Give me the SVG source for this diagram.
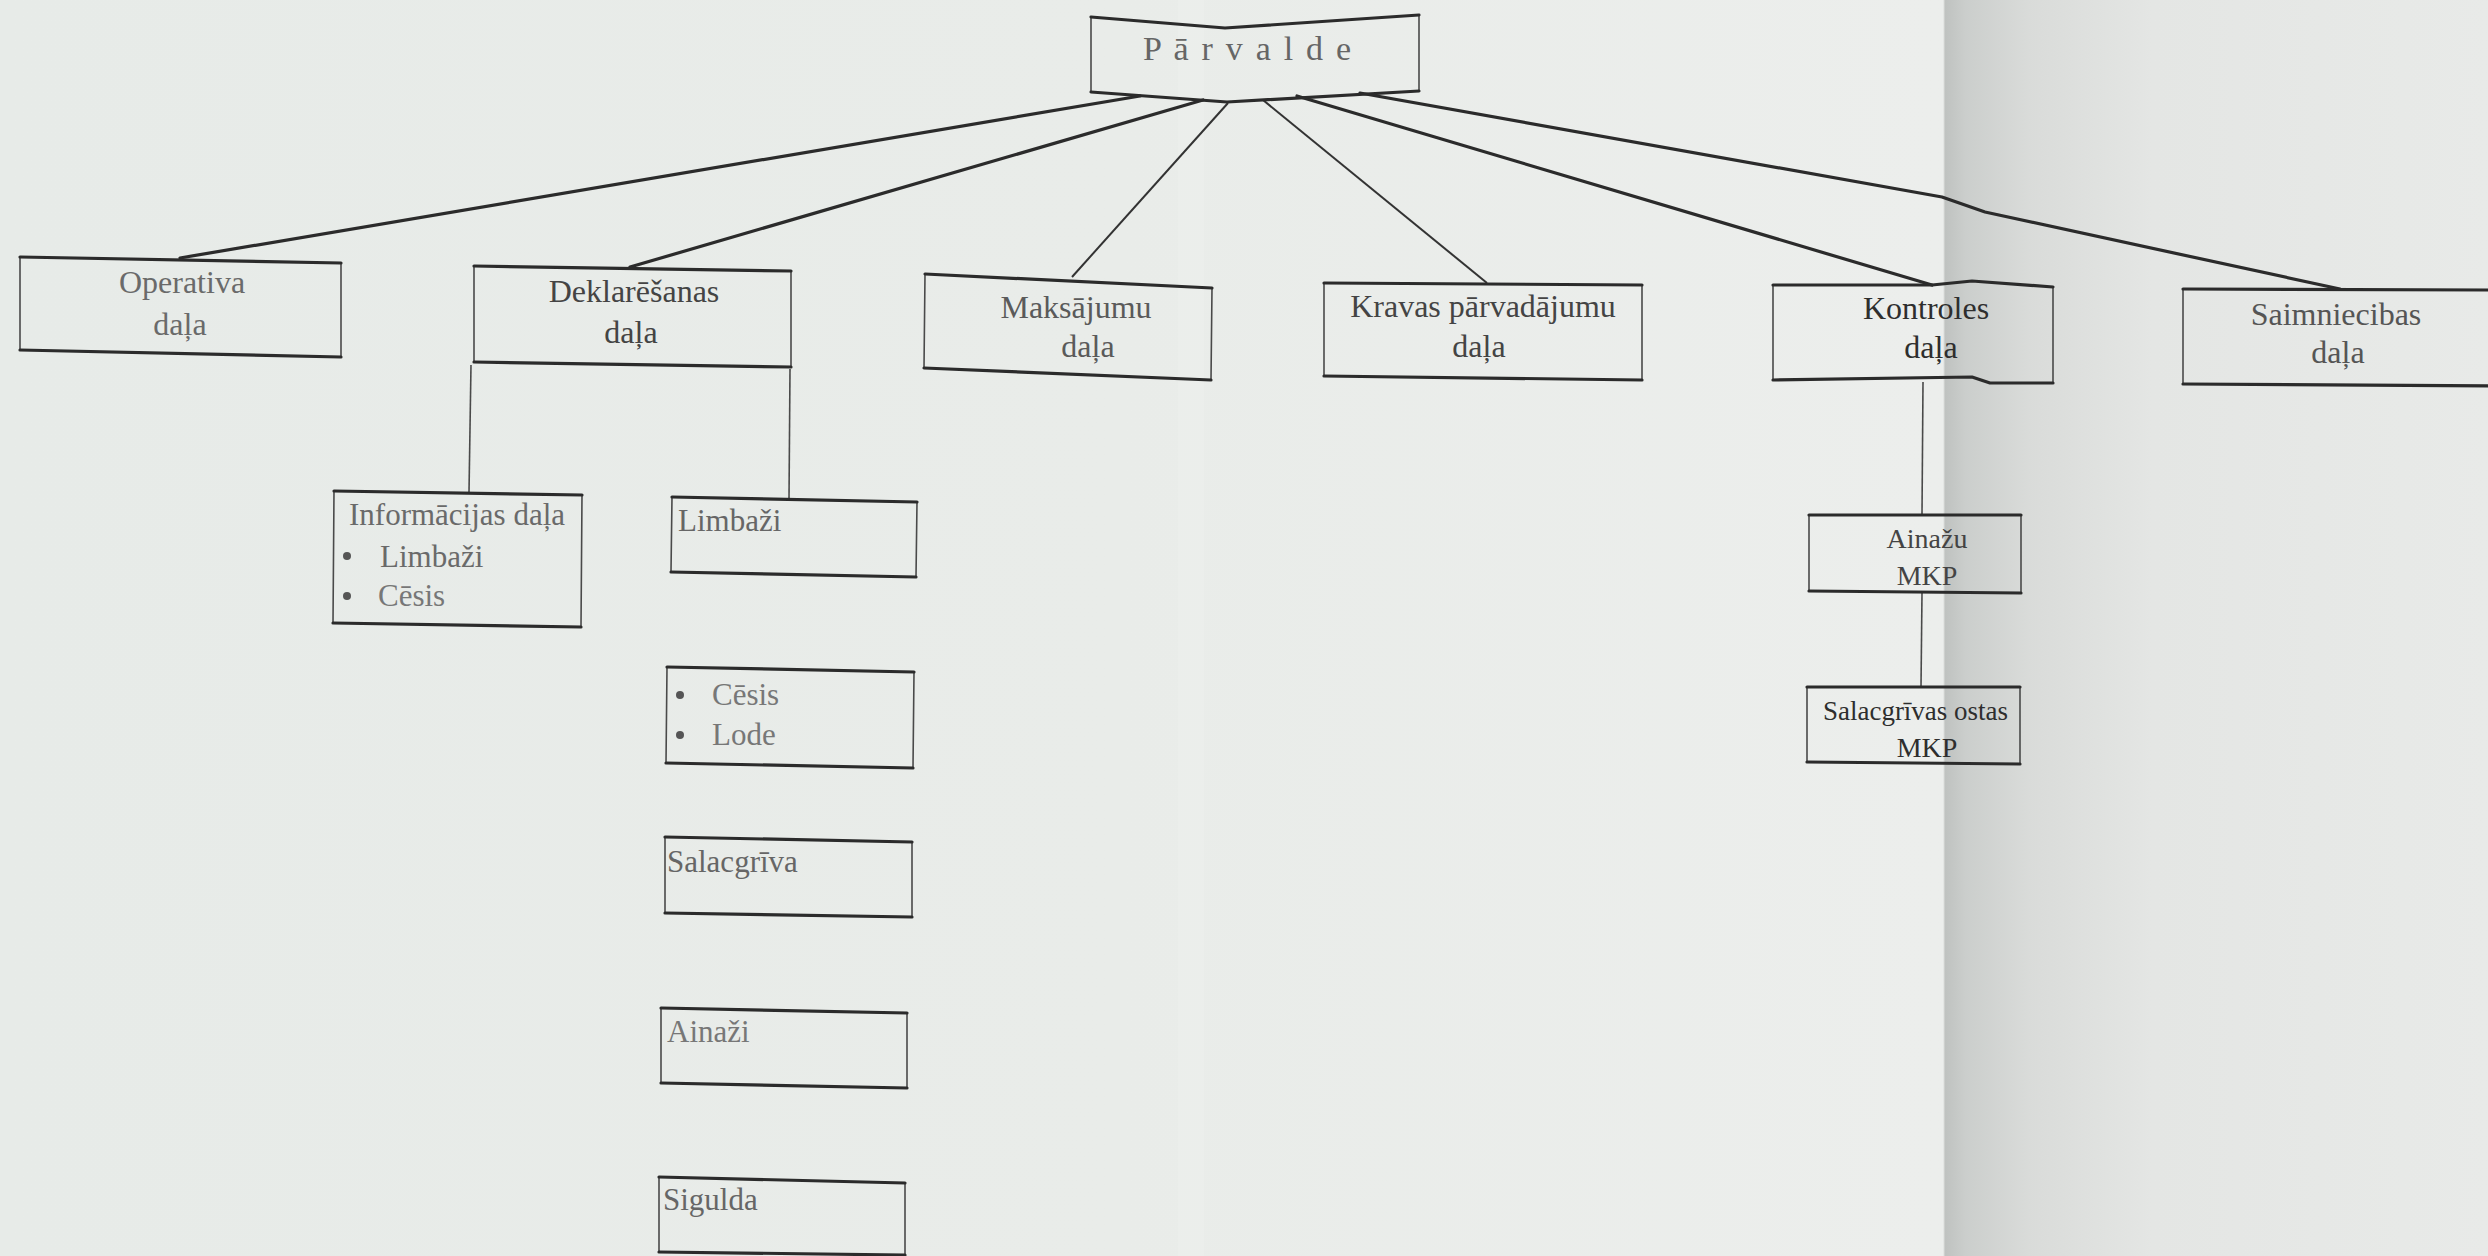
<svg xmlns="http://www.w3.org/2000/svg" width="2488" height="1256" viewBox="0 0 2488 1256">
<defs>
<linearGradient id="bg" x1="0" y1="0" x2="2488" y2="0" gradientUnits="userSpaceOnUse">
<stop offset="0" stop-color="#e7ebe8"/>
<stop offset="0.45" stop-color="#e9ece9"/>
<stop offset="0.7810" stop-color="#eceeec"/>
<stop offset="0.7818" stop-color="#bfc2c0"/>
<stop offset="0.79" stop-color="#cbcecc"/>
<stop offset="0.815" stop-color="#d9dbd9"/>
<stop offset="0.865" stop-color="#e4e6e4"/>
<stop offset="1" stop-color="#e8eae8"/>
</linearGradient>
<style>
.edge{fill:none;stroke:#2b2b2b;stroke-width:3.2;stroke-linecap:round;stroke-linejoin:round}
.side{fill:none;stroke:#4a4a4a;stroke-width:1.6}
.thick{fill:none;stroke:#2b2b2b;stroke-width:3.2;stroke-linecap:round;stroke-linejoin:round}
.thin{fill:none;stroke:#333;stroke-width:2}
.vline{fill:none;stroke:#4a4a4a;stroke-width:1.6}
text{font-family:"Liberation Serif","Times New Roman",serif;font-size:32px;fill:#4a4a4a}
.c{text-anchor:middle}
.sub{font-size:31px;fill:#666}
.mkp{font-size:28px;fill:#444}
.dot{fill:#555}
</style>
</defs>
<rect x="0" y="0" width="2488" height="1256" fill="url(#bg)"/>
<rect x="1178" y="0" width="26" height="1256" fill="#f1f3f1" opacity="0.3"/>

<g id="connectors">
<path class="thick" d="M1140,96 L180,258"/>
<path class="thick" d="M1203,100 L630,267"/>
<path class="thin" d="M1228,103 L1072,277"/>
<path class="thin" d="M1263,100 L1487,283"/>
<path class="thick" d="M1297,96 L1932,285"/>
<path class="thick" d="M1360,93 L1942,197 L1985,212 L2340,289"/>
<path class="vline" d="M471,365 L469,492"/>
<path class="vline" d="M790,369 L789,499"/>
<path class="vline" d="M1923,382 L1922,515"/>
<path class="vline" d="M1922,593 L1921,687"/>
</g>

<g id="parvalde">
<path class="side" d="M1091,17 L1091,92 M1419,15 L1419,91"/>
<path class="edge" d="M1091,17 L1225,28 L1419,15 M1091,92 L1227,102 L1419,91"/>
<text x="1143" y="60" style="font-size:34px;letter-spacing:2.2px;fill:#666">P ā r v a l d e</text>
</g>

<g id="operativa">
<path class="side" d="M20,257 L20,350 M341,263 L341,357"/>
<path class="edge" d="M20,257 L341,263 M20,350 L341,357"/>
<text class="c" x="182" y="293" style="fill:#6a6a6a">Operativa</text>
<text class="c" x="180" y="335" style="fill:#6a6a6a">daļa</text>
</g>

<g id="deklaresanas">
<path class="side" d="M474,266 L474,362 M791,271 L791,367"/>
<path class="edge" d="M474,266 L791,271 M474,362 L791,367"/>
<text class="c" x="634" y="302" style="fill:#444">Deklarēšanas</text>
<text class="c" x="631" y="343" style="fill:#444">daļa</text>
</g>

<g id="maksajumu">
<path class="side" d="M925,274 L924,368 M1212,288 L1211,380"/>
<path class="edge" d="M925,274 L1212,288 M924,368 L1211,380"/>
<text class="c" x="1076" y="318" style="fill:#5a5a5a">Maksājumu</text>
<text class="c" x="1088" y="357" style="fill:#5a5a5a">daļa</text>
</g>

<g id="kravas">
<path class="side" d="M1324,283 L1324,376 M1642,285 L1642,380"/>
<path class="edge" d="M1324,283 L1642,285 M1324,376 L1642,380"/>
<text class="c" x="1483" y="317" style="fill:#444">Kravas pārvadājumu</text>
<text class="c" x="1479" y="357" style="fill:#444">daļa</text>
</g>

<g id="kontroles">
<path class="side" d="M1773,285 L1773,380 M2053,287 L2053,383"/>
<path class="edge" d="M1773,285 L1932,285 L1972,281 L2053,287 M1773,380 L1972,377 L1990,383 L2053,383"/>
<text class="c" x="1926" y="319" style="fill:#2e2e2e">Kontroles</text>
<text class="c" x="1931" y="358" style="fill:#2e2e2e">daļa</text>
</g>

<g id="saimniecibas">
<path class="side" d="M2183,289 L2183,384"/>
<path class="edge" d="M2183,289 L2492,290 M2183,384 L2492,386"/>
<text class="c" x="2336" y="325" style="fill:#555">Saimniecibas</text>
<text class="c" x="2338" y="363" style="fill:#555">daļa</text>
</g>

<g id="informacijas">
<path class="side" d="M334,491 L333,623 M582,495 L581,627"/>
<path class="edge" d="M334,491 L582,495 M333,623 L581,627"/>
<text class="sub" x="349" y="525" style="fill:#6a6a6a">Informācijas daļa</text>
<circle class="dot" cx="347" cy="556" r="4"/>
<text class="sub" x="380" y="567" style="fill:#6a6a6a">Limbaži</text>
<circle class="dot" cx="347" cy="596" r="4"/>
<text class="sub" x="378" y="606" style="fill:#777">Cēsis</text>
</g>

<g id="limbazi">
<path class="side" d="M672,497 L671,572 M917,502 L916,577"/>
<path class="edge" d="M672,497 L917,502 M671,572 L916,577"/>
<text class="sub" x="678" y="531">Limbaži</text>
</g>

<g id="cesis-lode">
<path class="side" d="M667,667 L666,763 M914,672 L913,768"/>
<path class="edge" d="M667,667 L914,672 M666,763 L913,768"/>
<circle class="dot" cx="680" cy="695" r="4"/>
<text class="sub" x="712" y="705" style="fill:#777">Cēsis</text>
<circle class="dot" cx="680" cy="735" r="4"/>
<text class="sub" x="712" y="745" style="fill:#777">Lode</text>
</g>

<g id="salacgriva">
<path class="side" d="M665,837 L665,913 M912,842 L912,917"/>
<path class="edge" d="M665,837 L912,842 M665,913 L912,917"/>
<text class="sub" x="667" y="872">Salacgrīva</text>
</g>

<g id="ainazi">
<path class="side" d="M661,1008 L661,1083 M907,1013 L907,1088"/>
<path class="edge" d="M661,1008 L907,1013 M661,1083 L907,1088"/>
<text class="sub" x="667" y="1042" style="fill:#777">Ainaži</text>
</g>

<g id="sigulda">
<path class="side" d="M659,1177 L659,1252 M905,1183 L905,1256"/>
<path class="edge" d="M659,1177 L905,1183 M659,1252 L905,1255"/>
<text class="sub" x="663" y="1210">Sigulda</text>
</g>

<g id="ainazu-mkp">
<path class="side" d="M1809,515 L1809,591 M2021,515 L2021,593"/>
<path class="edge" d="M1809,515 L2021,515 M1809,591 L2021,593"/>
<text class="mkp c" x="1927" y="548">Ainažu</text>
<text class="mkp c" x="1927" y="585">MKP</text>
</g>

<g id="salacgrivas-mkp">
<path class="side" d="M1807,687 L1807,762 M2020,687 L2020,764"/>
<path class="edge" d="M1807,687 L2020,687 M1807,762 L2020,764"/>
<text class="mkp" x="1823" y="720" textLength="185" lengthAdjust="spacingAndGlyphs" style="fill:#2e2e2e">Salacgrīvas ostas</text>
<text class="mkp c" x="1927" y="757" style="fill:#2e2e2e">MKP</text>
</g>
</svg>
